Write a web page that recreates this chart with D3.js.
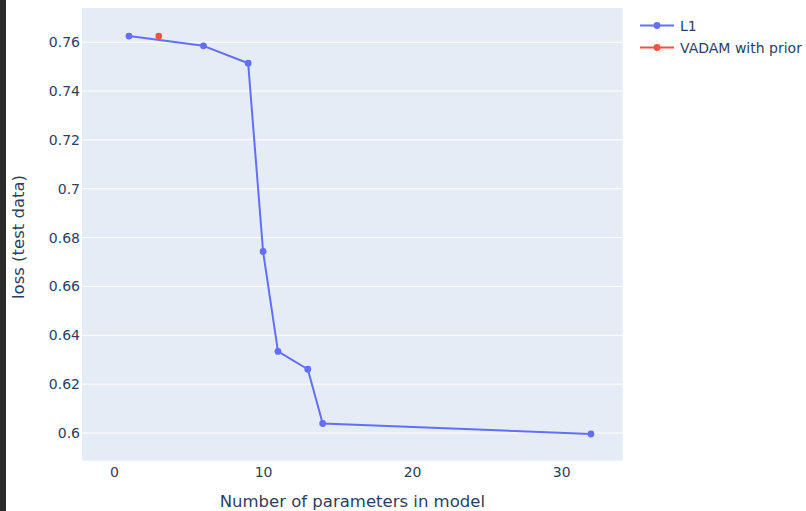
<!DOCTYPE html>
<html>
<head>
<meta charset="utf-8">
<script src="https://cdn.jsdelivr.net/npm/d3@7"></script>
<style>
  html, body { margin: 0; padding: 0; background: #fff; }
  svg { display: block; }
  text { font-family: Verdana, "DejaVu Sans", sans-serif; fill: #2a3f5f; }
</style>
</head>
<body>
<svg id="chart" width="806" height="511"></svg>
<script>
// Data
const l1Params = [1, 6, 9, 10, 11, 13, 14, 32];
const l1Loss = [0.7625, 0.7585, 0.7514, 0.6743, 0.6334, 0.6261, 0.6039, 0.5996];
const vadamParams = [3];
const vadamLoss = [0.7625];
const xTicks = [0, 10, 20, 30];
const yTicks = [0.6, 0.62, 0.64, 0.66, 0.68, 0.7, 0.72, 0.74, 0.76];
const seriesNames = ["L1", "VADAM with prior"];
const seriesColors = ["#636efa", "#EF553B"];

const svg = d3.select("#chart");
const W = 806, H = 511;
const plot = { left: 82, top: 8, right: 622.7, bottom: 460.7 };
const FONT = 'Verdana, "DejaVu Sans", sans-serif';

// dark strip on left edge
svg.append("rect").attr("x", 0).attr("y", 0).attr("width", 6).attr("height", H).attr("fill", "#2b2b2b");

const x = d3.scaleLinear().domain([-2.15, 34.13]).range([plot.left, plot.right]);
const y = d3.scaleLinear().domain([0.58866, 0.774]).range([plot.bottom, plot.top]);

svg.append("rect")
  .attr("x", plot.left).attr("y", plot.top)
  .attr("width", plot.right - plot.left).attr("height", plot.bottom - plot.top)
  .attr("fill", "#E5ECF6");

// gridlines
svg.append("g").selectAll("line").data(yTicks).join("line")
  .attr("x1", plot.left).attr("x2", plot.right)
  .attr("y1", d => y(d)).attr("y2", d => y(d))
  .attr("stroke", "#fff").attr("stroke-width", 1);

// y axis
const yAxis = d3.axisLeft(y).tickValues(yTicks).tickSize(0).tickPadding(2)
  .tickFormat(d => d3.format("")(+d.toFixed(2)));
const gy = svg.append("g").attr("transform", `translate(${plot.left},0)`).call(yAxis);
gy.select(".domain").remove();
gy.selectAll("text").attr("font-size", 14).style("fill", "#2a3f5f").attr("font-family", FONT);

// x axis
const xAxis = d3.axisBottom(x).tickValues(xTicks).tickSize(0).tickPadding(6);
const gx = svg.append("g").attr("transform", `translate(0,${plot.bottom})`).call(xAxis);
gx.select(".domain").remove();
gx.selectAll("text").attr("font-size", 14).style("fill", "#2a3f5f").attr("font-family", FONT);

// axis titles
svg.append("text").attr("x", (plot.left + plot.right) / 2).attr("y", 507)
  .attr("text-anchor", "middle").attr("font-size", 16.5).text("Number of parameters in model");
svg.append("text")
  .attr("transform", `translate(24,237) rotate(-90)`)
  .attr("text-anchor", "middle").attr("font-size", 16.5).text("loss (test data)");

// series
const line = d3.line().x(d => x(d[0])).y(d => y(d[1]));
const series = [
  d3.zip(l1Params, l1Loss),
  d3.zip(vadamParams, vadamLoss)
];
series.forEach((pts, i) => {
  const g = svg.append("g");
  g.append("path").datum(pts).attr("d", line).attr("fill", "none")
    .attr("stroke", seriesColors[i]).attr("stroke-width", 2).attr("stroke-linejoin", "round");
  g.selectAll("circle").data(pts).join("circle")
    .attr("cx", d => x(d[0])).attr("cy", d => y(d[1])).attr("r", 3.4)
    .attr("fill", seriesColors[i]);
});

// legend
const legend = svg.append("g");
seriesNames.forEach((name, i) => {
  const ly = 25.5 + i * 22;
  legend.append("line").attr("x1", 640).attr("x2", 674).attr("y1", ly).attr("y2", ly)
    .attr("stroke", seriesColors[i]).attr("stroke-width", 2);
  legend.append("circle").attr("cx", 657).attr("cy", ly).attr("r", 3.4).attr("fill", seriesColors[i]);
  legend.append("text").attr("x", 680).attr("y", ly + 5).attr("font-size", 14).text(name);
});
</script>
</body>
</html>
